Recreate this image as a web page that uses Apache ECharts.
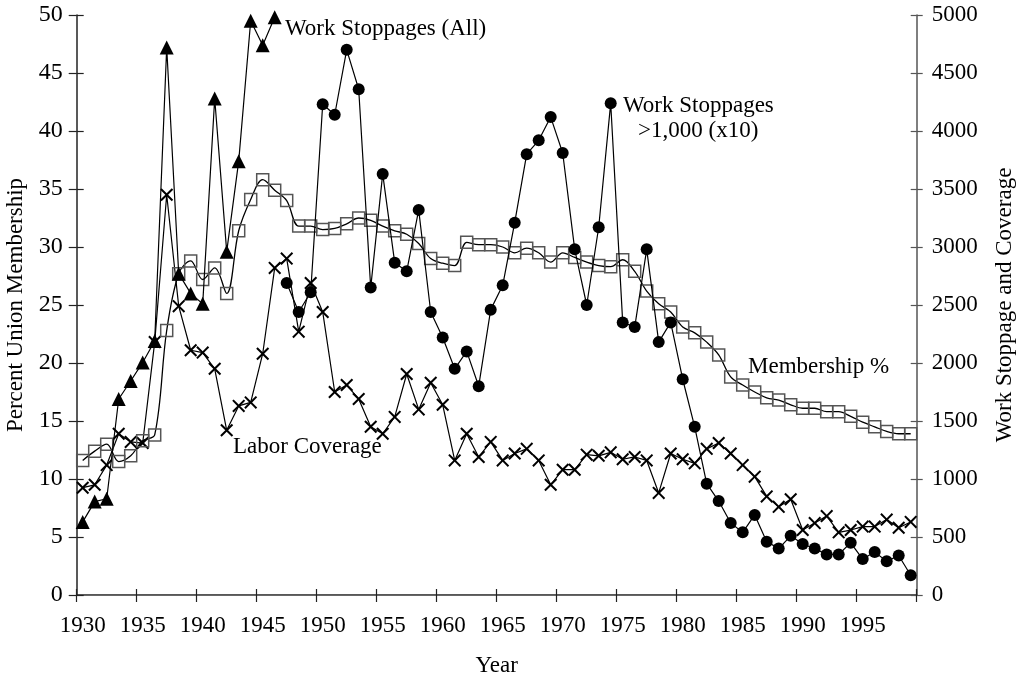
<!DOCTYPE html>
<html>
<head>
<meta charset="utf-8">
<script src="https://cdn.jsdelivr.net/npm/echarts@6/dist/echarts.min.js"></script>
<style>html,body{margin:0;padding:0;background:#fff}#c{width:1023px;height:679px}</style>
</head>
<body>
<div id="c"></div>
<script>
// ---- data ----
var years = [];
for (var y = 1930; y <= 1999; y++) years.push(y);

var membershipPct = [11.6,12.4,13.0,11.5,12.0,13.3,13.8,22.8,27.7,28.8,27.2,28.2,26.0,31.4,34.1,35.8,34.9,34.0,31.8,31.8,
  31.5,31.6,32.0,32.5,32.3,31.8,31.4,31.1,30.3,29.0,28.6,28.4,30.4,30.2,30.2,30.0,29.5,29.9,29.5,28.7,
  29.5,29.1,28.7,28.4,28.3,28.9,27.9,26.2,25.1,24.4,23.1,22.6,21.8,20.7,18.8,18.1,17.5,17.0,16.8,16.4,
  16.1,16.1,15.8,15.8,15.4,14.9,14.5,14.1,13.9,13.9];

var stoppageAllYears = [1930,1931,1932,1933,1934,1935,1936,1937,1938,1939,1940,1941,1942,1943,1944,1945,1946];
var stoppageAll = [630,805,830,1690,1845,2005,2190,4720,2770,2600,2510,4280,2960,3740,4950,4740,4980];

var stoppageBigYears = [];
for (var y2 = 1947; y2 <= 1999; y2++) stoppageBigYears.push(y2);
var stoppageBigX10 = [2690,2440,2610,4230,4140,4700,4360,2650,3630,2865,2790,3320,2440,
  2220,1950,2100,1800,2460,2670,3210,3800,3920,4120,
  3810,2980,2500,3170,4240,2350,2310,2980,2180,2350,
  1860,1450,960,810,620,540,690,460,400,510,
  440,400,350,350,450,310,370,290,340,170];

var laborCoverage = [925,950,1120,1390,1320,1310,2180,3450,2490,2110,2090,1950,1420,1630,1660,2080,2820,2900,2270,2690,
  2440,1750,1810,1690,1450,1390,1535,1905,1600,1830,1640,1160,1390,1190,1320,1160,1220,1260,1160,950,
  1080,1080,1210,1200,1230,1170,1190,1160,880,1220,1170,1135,1260,1310,1220,1120,1020,850,760,825,
  560,620,680,540,560,590,590,650,580,630];

var xTicks = [1930,1935,1940,1945,1950,1955,1960,1965,1970,1975,1980,1985,1990,1995];

// each year is drawn at the centre of its one-year band
function pairs(xs, vs) { return xs.map(function (x, i) { return [x + 0.5, vs[i]]; }); }

var FONT = "'Liberation Serif','Times New Roman',serif";
var FS = 23;
var AX = '#222';
var xShape = 'path://M0,1.1L1.1,0L5,3.9L8.9,0L10,1.1L6.1,5L10,8.9L8.9,10L5,6.1L1.1,10L0,8.9L3.9,5Z';

var chart = echarts.init(document.getElementById('c'), null, {renderer: 'canvas'});

var baseX = {type: 'value', min: 1930, max: 2000, interval: 5, splitLine: {show: false}};
var option = {
  animation: false,
  backgroundColor: '#fff',
  grid: {left: 76.7, right: 106.3, top: 15, bottom: 84, containLabel: false, outerBoundsMode: 'none'},
  xAxis: [
    Object.assign({}, baseX, {
      position: 'bottom',
      name: 'Year', nameLocation: 'middle', nameGap: 59,
      nameTextStyle: {fontFamily: FONT, fontSize: FS, color: '#000'},
      axisLine: {show: true, lineStyle: {color: AX, width: 1.5}},
      axisTick: {show: true, inside: false, length: 7, lineStyle: {color: AX, width: 1.2}},
      axisLabel: {show: true, margin: 19, fontFamily: FONT, fontSize: FS, color: '#000',
        padding: [0, 0, 0, 12],
        formatter: function (v) { return xTicks.indexOf(v) >= 0 ? String(v) : ''; }}
    }),
    Object.assign({}, baseX, {
      position: 'bottom',
      axisLine: {show: false},
      axisTick: {show: true, inside: true, length: 6, lineStyle: {color: AX, width: 1.2}},
      axisLabel: {show: false}
    }),
    Object.assign({}, baseX, {
      position: 'top',
      axisLine: {show: true, lineStyle: {color: '#666', width: 1.2}},
      axisTick: {show: false},
      axisLabel: {show: false}
    })
  ],
  yAxis: [
    {
      type: 'value', min: 0, max: 50, interval: 5, position: 'left',
      name: 'Percent Union Membership', nameLocation: 'middle', nameGap: 45, nameRotate: 90,
      nameTextStyle: {fontFamily: FONT, fontSize: FS, color: '#000'},
      splitLine: {show: false},
      axisLine: {show: true, lineStyle: {color: AX, width: 1.5}},
      axisTick: {show: true, inside: false, length: 8, lineStyle: {color: AX, width: 1.2}},
      axisLabel: {margin: 14, fontFamily: FONT, fontSize: 24, color: '#000'}
    },
    {
      type: 'value', min: 0, max: 5000, interval: 500, position: 'right',
      name: 'Work Stoppage and Coverage', nameLocation: 'middle', nameGap: 77, nameRotate: 90,
      nameTextStyle: {fontFamily: FONT, fontSize: FS, color: '#000'},
      splitLine: {show: false},
      axisLine: {show: true, lineStyle: {color: '#555', width: 1.5}},
      axisTick: {show: true, inside: false, length: 6, lineStyle: {color: '#555', width: 1.2}},
      axisLabel: {margin: 15, fontFamily: FONT, fontSize: FS, color: '#000',
        formatter: function (v) { return String(v); }}
    },
    {
      type: 'value', min: 0, max: 50, interval: 5, position: 'left',
      splitLine: {show: false}, axisLine: {show: false},
      axisTick: {show: true, inside: true, length: 7, lineStyle: {color: AX, width: 1.2}},
      axisLabel: {show: false}
    },
    {
      type: 'value', min: 0, max: 5000, interval: 500, position: 'right',
      splitLine: {show: false}, axisLine: {show: false},
      axisTick: {show: true, inside: true, length: 6, lineStyle: {color: '#555', width: 1.2}},
      axisLabel: {show: false}
    }
  ],
  series: [
    {
      name: 'Labor Coverage', type: 'line', xAxisIndex: 0, yAxisIndex: 1,
      data: pairs(years, laborCoverage),
      symbol: xShape, symbolSize: 13,
      lineStyle: {color: '#000', width: 1.2},
      itemStyle: {color: '#000', borderWidth: 0},
      z: 2
    },
    {
      name: 'Membership %', type: 'line', xAxisIndex: 0, yAxisIndex: 0,
      data: pairs(years, membershipPct),
      smooth: 0.35,
      symbol: 'rect', symbolSize: 12,
      lineStyle: {color: '#000', width: 1.3},
      itemStyle: {color: 'rgba(255,255,255,0)', borderColor: '#555', borderWidth: 1.5},
      z: 3
    },
    {
      name: 'Work Stoppages (All)', type: 'line', xAxisIndex: 0, yAxisIndex: 1,
      data: pairs(stoppageAllYears, stoppageAll),
      symbol: 'triangle', symbolSize: 14,
      lineStyle: {color: '#000', width: 1.2},
      itemStyle: {color: '#000', borderWidth: 0},
      z: 4
    },
    {
      name: 'Work Stoppages >1,000 (x10)', type: 'line', xAxisIndex: 0, yAxisIndex: 1,
      data: pairs(stoppageBigYears, stoppageBigX10),
      symbol: 'circle', symbolSize: 12,
      lineStyle: {color: '#000', width: 1.2},
      itemStyle: {color: '#000', borderWidth: 0},
      z: 4
    }
  ],
  graphic: [
    {type: 'text', z: 10, style: {text: 'Work Stoppages (All)', x: 285, y: 29, font: FS + 'px ' + FONT, fill: '#000', textVerticalAlign: 'middle'}},
    {type: 'text', z: 10, style: {text: 'Work Stoppages', x: 623, y: 106, font: FS + 'px ' + FONT, fill: '#000', textVerticalAlign: 'middle'}},
    {type: 'text', z: 10, style: {text: '>1,000 (x10)', x: 638, y: 131, font: FS + 'px ' + FONT, fill: '#000', textVerticalAlign: 'middle'}},
    {type: 'text', z: 10, style: {text: 'Membership %', x: 748, y: 367, font: FS + 'px ' + FONT, fill: '#000', textVerticalAlign: 'middle'}},
    {type: 'text', z: 10, style: {text: 'Labor Coverage', x: 233, y: 447, font: FS + 'px ' + FONT, fill: '#000', textVerticalAlign: 'middle'}}
  ]
};
chart.setOption(option);
</script>
</body>
</html>
